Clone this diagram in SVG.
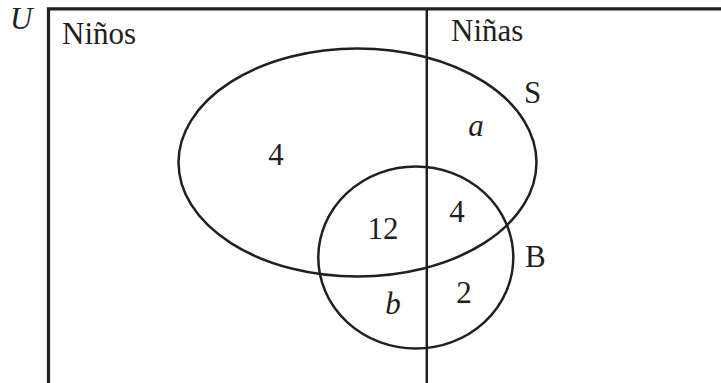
<svg xmlns="http://www.w3.org/2000/svg" width="721" height="383" viewBox="0 0 721 383">
<style>
.ln{fill:none;stroke:#231f20;stroke-width:2.5}
.fr{fill:none;stroke:#231f20;stroke-width:3.2}
.t{font-family:"Liberation Serif","Times New Roman",serif;font-size:31px;fill:#231f20}
.i{font-style:italic}
.m{text-anchor:middle}
</style>
<rect width="721" height="383" fill="#ffffff"/>
<g id="universe">
<path class="fr" d="M48.5,383 V8.8 H721"/>
<text class="t i" x="10" y="29">U</text>
</g>
<g id="divider">
<line class="ln" x1="426.8" y1="9" x2="426.8" y2="383"/>
<text class="t" x="62" y="44">Niños</text>
<text class="t" x="451" y="41">Niñas</text>
</g>
<g id="setS">
<ellipse class="ln" cx="357.5" cy="162.5" rx="179" ry="114"/>
<text class="t" x="524" y="103">S</text>
</g>
<g id="setB">
<ellipse class="ln" cx="415.8" cy="257.5" rx="97.5" ry="91"/>
<text class="t" x="525" y="267">B</text>
</g>
<g id="labels">
<text class="t m" x="276" y="165">4</text>
<text class="t i m" x="476" y="136">a</text>
<text class="t m" x="383" y="239">12</text>
<text class="t m" x="457" y="222">4</text>
<text class="t m" x="464" y="303">2</text>
<text class="t i m" x="393" y="314">b</text>
</g>
<g id="connectors"></g>
</svg>
